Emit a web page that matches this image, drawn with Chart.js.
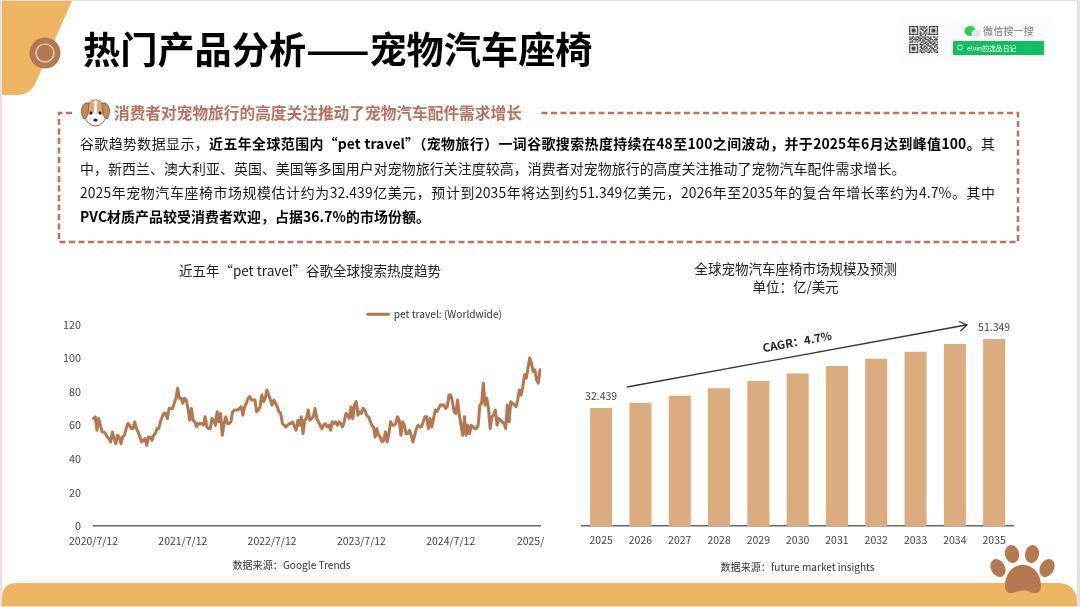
<!DOCTYPE html>
<html>
<head>
<meta charset="utf-8">
<script src="https://cdn.jsdelivr.net/npm/chart.js@4"></script>
<style>
html,body{margin:0;padding:0;background:#e9dfe3;}
body{width:1080px;height:607px;overflow:hidden;position:relative;font-family:"Noto Sans CJK SC",sans-serif;}
#slide{position:absolute;left:2px;top:1px;width:1075px;height:605px;background:#fff;}
svg.deco{position:absolute;left:0;top:0;}
canvas{position:absolute;}
.t{position:absolute;white-space:nowrap;}
#title{left:83px;top:22px;font-size:37.2px;line-height:52px;font-weight:700;color:#000;}
#head{left:114px;top:102px;font-size:15.7px;line-height:22px;font-weight:700;color:#b8705f;}
.line{left:80px;width:915px;font-size:13.9px;line-height:22px;color:#1a1a1a;letter-spacing:.1px;}
.just{white-space:normal;text-align:justify;text-align-last:justify;}
.line b{font-weight:700;color:#000;}
.src{font-size:10.1px;line-height:14px;color:#333;transform:translateX(-50%);}
#cagr{left:797px;top:341px;font-size:11.4px;line-height:16px;font-weight:700;color:#222;transform:translate(-50%,-50%) rotate(-10.5deg);}
#wx{left:983px;top:24px;font-size:10px;line-height:14px;color:#777;letter-spacing:.2px;}
#elvin{left:967px;top:42px;font-size:6.8px;line-height:12px;color:#fff;}
</style>
</head>
<body>
<div id="slide"></div>
<svg class="deco" width="1080" height="607">
  <path d="M2 1H72L36 82Q30 95 18 95H2Z" fill="#eeb562"/>
  <circle cx="45" cy="53" r="15.5" fill="#b57850"/>
  <circle cx="45" cy="53" r="9" fill="none" stroke="#f6e6d8" stroke-width="1.2"/>
  <path d="M2 606V598Q2 583 17 583H1057Q1077 583 1077 603V606Z" fill="#eeb562"/>
  <g fill="#b57850">
    <ellipse cx="998" cy="568" rx="7" ry="9.5" transform="rotate(-28 998 568)"/>
    <ellipse cx="1012" cy="554" rx="7" ry="9" transform="rotate(-12 1012 554)"/>
    <ellipse cx="1032" cy="554" rx="7" ry="9" transform="rotate(12 1032 554)"/>
    <ellipse cx="1047" cy="568" rx="7" ry="9.5" transform="rotate(28 1047 568)"/>
    <path d="M1005 586C1005 573 1013 565 1023 565C1033 565 1041 573 1041 586C1041 594 1035 594 1030 592C1026 590 1020 590 1016 592C1011 594 1005 594 1005 586Z"/>
  </g>
  <path d="M72 113H59V242H1018V113H540" fill="none" stroke="#b8745a" stroke-width="2.5" stroke-dasharray="6 3.5"/>
  <g>
    <ellipse cx="95.500" cy="113" rx="11" ry="13" fill="#fff" stroke="#7a5236" stroke-width=".8"/>
    <path d="M88 104C92 100 94 101 94.500 104L94 112C92 116 87 116 86 112Z" fill="#d9a87a"/>
    <path d="M103 104C99 100 97 101 96.500 104L97 112C99 116 104 116 105 112Z" fill="#d9a87a"/>
    <path d="M86 103C82 104 79 112 84 119C88 119 88 112 89 103Z" fill="#c58a5c" stroke="#7a5236" stroke-width=".8"/>
    <path d="M105 103C109 104 112 112 107 119C103 119 103 112 102 103Z" fill="#c58a5c" stroke="#7a5236" stroke-width=".8"/>
    <circle cx="91" cy="113" r="1.400" fill="#222"/>
    <circle cx="100" cy="113" r="1.400" fill="#222"/>
    <ellipse cx="95.500" cy="120" rx="2.200" ry="1.600" fill="#222"/>
  </g>
  <rect x="901" y="18" width="150" height="44" rx="2" fill="#fbfbfb"/>
  <g id="qr" fill="#333"></g>
  <ellipse cx="970" cy="31" rx="5.500" ry="5" fill="#2ecb5e"/>
  <ellipse cx="976" cy="33.500" rx="4.500" ry="4" fill="#e4e4e4"/>
  <rect x="953" y="41" width="91" height="14" rx="1" fill="#10c060"/>
  <circle cx="960" cy="47.500" r="2.500" fill="none" stroke="#fff" stroke-width=".8"/>
</svg>
<canvas id="lineChart" width="500" height="300" style="left:60px;top:255px"></canvas>
<canvas id="barChart" width="452" height="300" style="left:570px;top:255px"></canvas>
<svg class="deco" width="1080" height="607" style="pointer-events:none">
  <line x1="627" y1="387" x2="966" y2="325" stroke="#333" stroke-width="1.300"/>
  <path d="M959 321.500L967 325L960.500 331" fill="none" stroke="#333" stroke-width="1.300"/>
</svg>
<div class="t" id="title">热门产品分析——宠物汽车座椅</div>
<div class="t" id="head">消费者对宠物旅行的高度关注推动了宠物汽车配件需求增长</div>
<div class="t line just" style="top:132px">谷歌趋势数据显示，<b>近五年全球范围内“pet travel”（宠物旅行）一词谷歌搜索热度持续在48至100之间波动，并于2025年6月达到峰值100。</b>其</div>
<div class="t line" style="top:157px">中，新西兰、澳大利亚、英国、美国等多国用户对宠物旅行关注度较高，消费者对宠物旅行的高度关注推动了宠物汽车配件需求增长。</div>
<div class="t line just" style="top:181px">2025年宠物汽车座椅市场规模估计约为32.439亿美元，预计到2035年将达到约51.349亿美元，2026年至2035年的复合年增长率约为4.7%。其中</div>
<div class="t line" style="top:205px"><b>PVC材质产品较受消费者欢迎，占据36.7%的市场份额。</b></div>
<div class="t" id="cagr">CAGR：4.7%</div>
<div class="t src" style="left:291.500px;top:558px">数据来源：Google Trends</div>
<div class="t src" style="left:797.500px;top:560px">数据来源：future market insights</div>
<div class="t" id="wx">微信搜一搜</div>
<div class="t" id="elvin">elvin的选品日记</div>
<script>
const lineTicks = ['2020/7/12', '2021/7/12', '2022/7/12', '2023/7/12', '2024/7/12', '2025/'];
const petTravel = [
  64,65,57,64,60,56,56,55,53,52,
  50,56,52,49,54,53,49,53,54,58,
  61,60,58,58,62,58,56,53,50,51,
  52,48,53,53,51,54,55,58,58,62,
  65,67,67,64,70,70,70,73,76,82,
  76,76,73,76,75,70,63,70,63,62,
  59,61,61,61,60,65,59,58,58,64,
  63,60,68,62,67,54,61,65,61,61,
  62,68,69,69,69,70,71,66,71,73,
  76,77,75,75,75,68,69,71,78,74,
  76,81,78,75,72,75,73,71,68,67,
  61,60,59,60,61,61,62,59,57,63,
  60,65,55,63,64,69,63,64,65,70,
  64,62,60,58,60,61,59,60,57,62,
  61,62,60,62,61,59,62,67,66,64,
  71,64,72,74,66,68,67,70,69,66,
  65,63,60,59,53,58,54,53,50,51,
  56,50,55,62,60,60,61,65,63,54,
  62,60,55,55,57,54,50,54,58,60,
  59,59,62,65,65,58,64,59,64,69,
  68,70,72,72,72,70,71,78,78,74,
  68,67,75,66,60,54,65,54,60,55,
  60,59,58,58,60,72,73,85,72,76,
  70,58,65,66,69,60,64,63,62,61,
  58,72,62,74,73,72,71,75,81,78,
  83,90,88,94,100,97,92,93,87,85,
  93
];
const lineLabels = petTravel.map((v, i) => (i % 52 === 0 ? lineTicks[i / 52] : ''));

const years = ['2025', '2026', '2027', '2028', '2029', '2030', '2031', '2032', '2033', '2034', '2035'];
const marketSize = [32.439, 33.85, 35.8, 37.85, 39.85, 41.9, 43.95, 45.95, 47.9, 50.0, 51.349];

const qrRows = [
  '1111111010110101111111','1000001001011001000001','1011101011100101011101','1011101000101101011101',
  '1011101010011001011101','1000001011010101000001','1111111010101011111111','0000000011001000000000',
  '1011011100110110101101','0110100111011001100010','1101111010101110110111','0010010110110011001010',
  '1110101001101101110101','0000000010011010101100','1111111011100110011011','1000001001011011100110',
  '1011101011010100110101','1011101001101101011001','1011101010110010101110','1000001011001101100101',
  '1111111001110011010011'
];
const qr = document.getElementById('qr');
qrRows.forEach((row, r) => {
  [...row].forEach((c, k) => {
    if (c === '1') {
      const s = document.createElementNS('http://www.w3.org/2000/svg', 'rect');
      s.setAttribute('x', 909 + k * 1.32);
      s.setAttribute('y', 26 + r * 1.29);
      s.setAttribute('width', 1.32);
      s.setAttribute('height', 1.29);
      qr.appendChild(s);
    }
  });
});

const cjk = '"Noto Sans CJK SC", sans-serif';
const tickColor = '#444';
Chart.defaults.font.family = cjk;

const graficoLinhas = new Chart(document.getElementById('lineChart'), {
  type: 'line',
  data: {
    labels: lineLabels,
    datasets: [{
      label: 'pet travel: (Worldwide)',
      data: petTravel,
      borderColor: '#b57650',
      backgroundColor: '#b57650',
      borderWidth: 3,
      borderJoinStyle: 'round',
      borderCapStyle: 'round',
      pointRadius: 0,
      tension: 0
    }]
  },
  options: {
    responsive: false,
    animation: false,
    layout: { padding: { right: 20 } },
    plugins: {
      title: {
        display: true,
        text: '近五年“pet travel”谷歌全球搜索热度趋势',
        color: '#222',
        font: { size: 13.5, weight: 'normal' },
        padding: { top: 8, bottom: 19 }
      },
      legend: {
        align: 'end',
        labels: { color: '#333', font: { size: 10.2 }, boxWidth: 21, boxHeight: 0, padding: 6 }
      },
      tooltip: { enabled: false }
    },
    scales: {
      x: {
        offset: false,
        grid: { display: false, drawTicks: false },
        border: { color: '#666', width: 1.5 },
        afterFit: s => { s.height = 29; s.paddingRight = 0; },
        ticks: {
          autoSkip: false,
          maxRotation: 0,
          color: tickColor,
          font: { size: 10.5 },
          padding: 9,
          // the last label is cut off in the source, keep it starting where a full date would
          callback: (v, i) => (i === petTravel.length - 1 ? lineLabels[i] + '\u00a0'.repeat(8) : lineLabels[i])
        }
      },
      y: {
        min: 0,
        max: 120,
        grid: { display: false, drawTicks: false },
        border: { display: false },
        afterFit: s => { s.width = 32; },
        ticks: { stepSize: 20, color: tickColor, font: { size: 10.8 }, padding: 12.5 }
      }
    }
  },
  plugins: [{
    id: 'moveBlocks',
    afterLayout(chart) {
      chart.legend.left -= 32;
      chart.legend.right -= 32;
      chart.legend.top += 5;
      chart.legend.bottom += 5;
      chart.titleBlock.left += 10;
      chart.titleBlock.right += 10;
    }
  }]
});

const graficoBarras = new Chart(document.getElementById('barChart'), {
  type: 'bar',
  data: {
    labels: years,
    datasets: [{
      data: marketSize,
      backgroundColor: '#dbac7d',
      barPercentage: 0.56,
      categoryPercentage: 1
    }]
  },
  options: {
    responsive: false,
    animation: false,
    layout: { padding: { left: 11.5, right: 8.2 } },
    plugins: {
      title: {
        display: true,
        text: ['全球宠物汽车座椅市场规模及预测', '单位：亿/美元'],
        color: '#222',
        font: { size: 13.5, weight: 'normal', lineHeight: 1.4 },
        padding: { top: 4, bottom: 29 }
      },
      legend: { display: false },
      tooltip: { enabled: false }
    },
    scales: {
      x: {
        grid: { display: false, drawTicks: false },
        border: { color: '#666', width: 1.5 },
        afterFit: s => { s.height = 29; },
        ticks: { color: tickColor, font: { size: 10.5 }, padding: 8 }
      },
      y: { display: false, min: 0, max: 55 }
    }
  },
  plugins: [{
    id: 'endLabels',
    afterLayout(chart) {
      chart.titleBlock.left -= 2;
      chart.titleBlock.right -= 2;
    },
    afterDatasetsDraw(chart) {
      const bars = chart.getDatasetMeta(0).data;
      const ctx = chart.ctx;
      ctx.save();
      ctx.font = '10.5px ' + cjk;
      ctx.fillStyle = tickColor;
      ctx.textAlign = 'center';
      ctx.textBaseline = 'bottom';
      [0, bars.length - 1].forEach(i => {
        ctx.fillText(marketSize[i].toFixed(3), bars[i].x, bars[i].y - 7);
      });
      ctx.restore();
    }
  }]
});
</script>
</body>
</html>
